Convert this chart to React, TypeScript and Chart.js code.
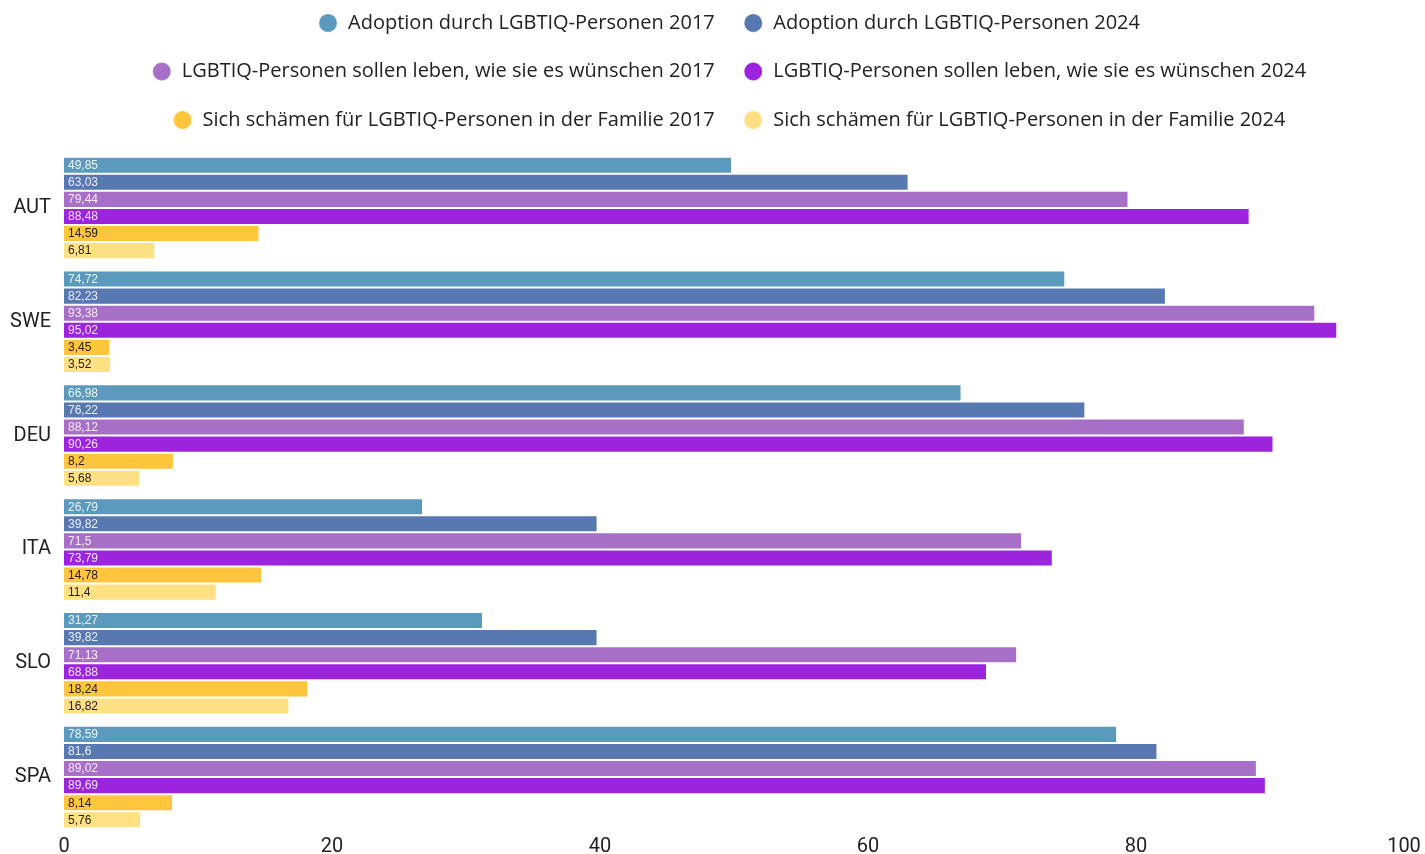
import React, { useEffect, useRef } from "react";
import { Chart, registerables } from "chart.js";

Chart.register(...registerables);

const categories = ["AUT", "SWE", "DEU", "ITA", "SLO", "SPA"];
const seriesNames = [
  "Adoption durch LGBTIQ-Personen 2017",
  "Adoption durch LGBTIQ-Personen 2024",
  "LGBTIQ-Personen sollen leben, wie sie es wünschen 2017",
  "LGBTIQ-Personen sollen leben, wie sie es wünschen 2024",
  "Sich schämen für LGBTIQ-Personen in der Familie 2017",
  "Sich schämen für LGBTIQ-Personen in der Familie 2024",
];
const adoption2017 = [49.85, 74.72, 66.98, 26.79, 31.27, 78.59];
const adoption2024 = [63.03, 82.23, 76.22, 39.82, 39.82, 81.6];
const leben2017 = [79.44, 93.38, 88.12, 71.5, 71.13, 89.02];
const leben2024 = [88.48, 95.02, 90.26, 73.79, 68.88, 89.69];
const schaemen2017 = [14.59, 3.45, 8.2, 14.78, 18.24, 8.14];
const schaemen2024 = [6.81, 3.52, 5.68, 11.4, 16.82, 5.76];
const colors = ["#5b9abd", "#5778b1", "#a86fc8", "#9c24dd", "#ffc53d", "#ffe184"];
const labelColors = ["rgba(255,255,255,0.88)", "rgba(255,255,255,0.88)", "rgba(255,255,255,0.88)", "rgba(255,255,255,0.88)", "#222222", "#222222"];
const xTicks = [0, 20, 40, 60, 80, 100];

const fmt = (v: number) => String(v).replace(".", ",");

const barLabels = {
  id: "barLabels",
  afterDatasetsDraw(chart: any) {
    const ctx = chart.ctx;
    ctx.save();
    ctx.font = "12px 'Liberation Sans', Arial, sans-serif";
    ctx.textBaseline = "middle";
    ctx.textAlign = "left";
    chart.data.datasets.forEach((ds: any, di: number) => {
      const meta = chart.getDatasetMeta(di);
      meta.data.forEach((bar: any, i: number) => {
        ctx.fillStyle = labelColors[di];
        ctx.fillText(fmt(ds.data[i]), bar.base + 4, bar.y + 0.5);
      });
    });
    ctx.restore();
  },
};

const legendShift = {
  id: "legendShift",
  afterLayout(chart: any) {
    if (chart.legend) chart.legend.left = 54;
  },
};

export default function App() {
  const ref = useRef<HTMLCanvasElement>(null);
  useEffect(() => {
    document.body.style.margin = "0";
    const series = [adoption2017, adoption2024, leben2017, leben2024, schaemen2017, schaemen2024];
    const chart = new Chart(ref.current!, {
      type: "bar",
      data: {
        labels: categories,
        datasets: series.map((d, i) => ({
          label: seriesNames[i],
          data: d,
          backgroundColor: colors[i],
          borderColor: "rgba(255,255,255,0.45)",
          borderWidth: 1,
          categoryPercentage: 0.9,
          barPercentage: 1,
        })),
      },
      options: {
        indexAxis: "y",
        animation: false,
        responsive: false,
        layout: { padding: { top: -15.5, right: 21, left: 0, bottom: 0 } },
        plugins: {
          tooltip: { enabled: false },
          title: {
            display: true,
            text: "",
            weight: 500,
            font: { size: 1, lineHeight: 1 },
            padding: { top: 10, bottom: 0 },
          },
          legend: {
            position: "top",
            labels: {
              usePointStyle: true,
              pointStyle: "circle",
              boxWidth: 20,
              boxHeight: 13,
              padding: 28.5,
              color: "#222",
              font: { size: 20, family: "'Open Sans'" },
            },
          },
        },
        scales: {
          x: {
            min: 0,
            max: 100,
            grid: { display: false, drawTicks: false },
            border: { display: false },
            afterBuildTicks: (s: any) => {
              s.ticks = xTicks.map((v) => ({ value: v }));
            },
            afterFit: (s: any) => {
              s.height = 20;
              s.paddingLeft = 0;
              s.paddingRight = 0;
            },
            ticks: {
              padding: 1,
              color: "#222",
              font: { size: 20, family: "Roboto" },
            },
          },
          y: {
            grid: { display: false, drawTicks: false },
            border: { display: false },
            afterFit: (s: any) => {
              s.width = 64;
              s.paddingTop = 0;
              s.paddingBottom = 0;
            },
            ticks: {
              padding: 13,
              color: "#222",
              font: { size: 20, family: "Roboto" },
            },
          },
        },
      },
      plugins: [barLabels, legendShift],
    });
    return () => chart.destroy();
  }, []);
  return <canvas ref={ref} width={1425} height={854} style={{ display: "block" }} />;
}
